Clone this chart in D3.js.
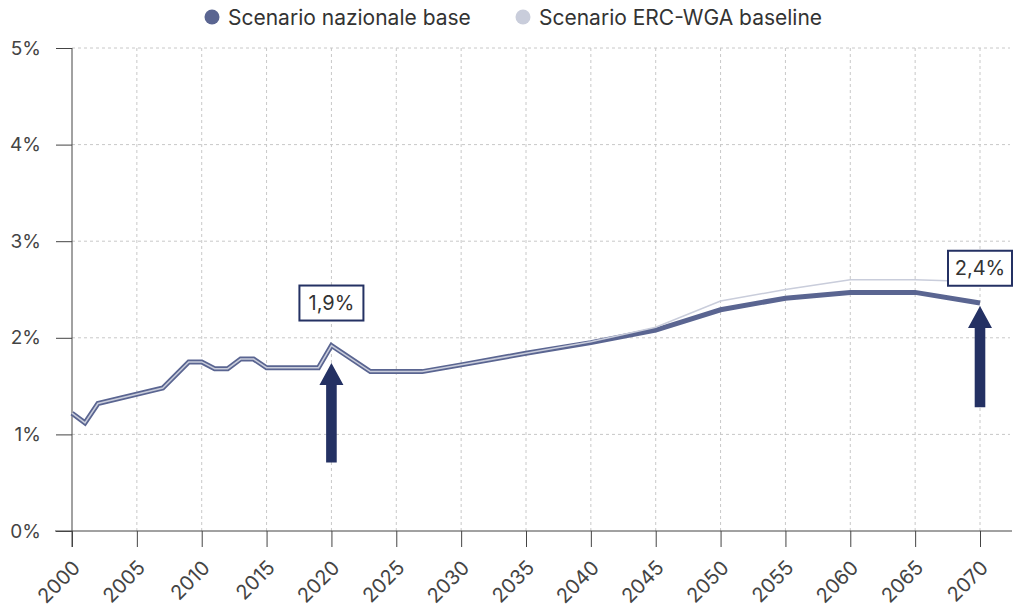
<!DOCTYPE html>
<html>
<head>
<meta charset="utf-8">
<script src="https://cdn.jsdelivr.net/npm/d3@7"></script>
<style>
  html, body { margin: 0; padding: 0; background: #fff; }
  svg { display: block; font-family: Inter, "Noto Sans", sans-serif; }
</style>
</head>
<body>
<svg id="chart" width="1021" height="611"></svg>
<script>
// ---- Data ----
const years    = [2000,2001,2002,2007,2009,2010,2011,2012,2013,2014,2015,2019,2020,2023,2027,2030,2035,2040,2045,2050,2055,2060,2065,2070];
const national = [1.22,1.12,1.32,1.48,1.75,1.75,1.68,1.68,1.78,1.78,1.69,1.69,1.92,1.65,1.65,1.72,1.84,1.95,2.08,2.29,2.41,2.47,2.47,2.36];
const baseline = [1.22,1.12,1.32,1.48,1.75,1.75,1.68,1.68,1.78,1.78,1.69,1.69,1.92,1.65,1.65,1.72,1.84,1.96,2.11,2.38,2.50,2.60,2.60,2.58];
const seriesNames = ["Scenario nazionale base", "Scenario ERC-WGA baseline"];
const xTicks = [2000,2005,2010,2015,2020,2025,2030,2035,2040,2045,2050,2055,2060,2065,2070];
const yTicks = [0,1,2,3,4,5];
// annotations: year, label, box centre value, arrow tip value, arrow base value
const annYears  = [2020, 2070];
const annLabels = ["1,9%", "2,4%"];
const annBoxVal = [2.36, 2.72];
const annTipVal = [1.74, 2.33];
const annBaseVal= [0.71, 1.28];

const colDark = "#5a6591", colLight = "#c9cddb", colArrow = "#243163";

const svg = d3.select("#chart");
const x = d3.scaleLinear().domain([2000, 2070]).range([72, 980]);
const y = d3.scaleLinear().domain([0, 5]).range([531, 48]);
const xRight = 1010;

// grid
const grid = svg.append("g");
grid.selectAll("line.h").data(yTicks.filter(d => d > 0)).join("line")
  .attr("x1", x(2000)).attr("x2", xRight).attr("y1", d => y(d)).attr("y2", d => y(d))
  .attr("stroke", "#c8c8c8").attr("stroke-dasharray", "3,3");
grid.selectAll("line.v").data(xTicks.filter(d => d > 2000)).join("line")
  .attr("x1", d => x(d)).attr("x2", d => x(d)).attr("y1", y(5)).attr("y2", y(0))
  .attr("stroke", "#c8c8c8").attr("stroke-dasharray", "3,3");

// axes
const yAxis = d3.axisLeft(y).tickValues(yTicks).tickFormat(d => d + "%").tickSize(16).tickPadding(15);
const gy = svg.append("g").attr("transform", `translate(${x(2000)},0)`).call(yAxis);
gy.select(".domain").remove();
gy.append("line").attr("x1", 0).attr("x2", 0).attr("y1", y(5)).attr("y2", y(0) + 16).attr("stroke", "#444");
gy.selectAll(".tick line").attr("stroke", "#444");
gy.selectAll(".tick text").attr("fill", "#444").style("font-size", "19px").style("font-family", "Inter, sans-serif");

const xAxis = d3.axisBottom(x).tickValues(xTicks).tickFormat(d3.format("d")).tickSize(16);
const gx = svg.append("g").attr("transform", `translate(0,${y(0)})`).call(xAxis);
gx.select(".domain").remove();
gx.append("line").attr("x1", 55).attr("x2", 1012).attr("y1", 0).attr("y2", 0).attr("stroke", "#444");
gx.selectAll(".tick line").attr("stroke", "#444");
gx.selectAll(".tick text")
  .attr("fill", "#444").style("font-size", "20px").style("font-family", "Inter, sans-serif")
  .attr("text-anchor", "end").attr("dy", null).attr("y", 0)
  .attr("transform", "translate(9,38) rotate(-45)");

// lines
const line = d3.line().x((d, i) => x(years[i])).y(d => y(d));
svg.append("path").datum(national).attr("d", line)
  .attr("fill", "none").attr("stroke", colDark).attr("stroke-width", 5).attr("stroke-linejoin", "miter");
svg.append("path").datum(baseline).attr("d", line)
  .attr("fill", "none").attr("stroke", colLight).attr("stroke-width", 1.5);

// annotations
annYears.forEach((yr, i) => {
  const cx = x(yr);
  const tip = y(annTipVal[i]), base = y(annBaseVal[i]);
  const headH = 22, headW = 12, shaftW = 5.3;
  const p = d3.path();
  p.moveTo(cx, tip);
  p.lineTo(cx + headW, tip + headH);
  p.lineTo(cx + shaftW, tip + headH);
  p.lineTo(cx + shaftW, base);
  p.lineTo(cx - shaftW, base);
  p.lineTo(cx - shaftW, tip + headH);
  p.lineTo(cx - headW, tip + headH);
  p.closePath();
  svg.append("path").attr("d", p.toString()).attr("fill", colArrow);

  const by = y(annBoxVal[i]);
  const w = 64, h = 35;
  svg.append("rect").attr("x", cx - w / 2).attr("y", by - h / 2).attr("width", w).attr("height", h)
    .attr("fill", "#fff").attr("stroke", colArrow).attr("stroke-width", 2);
  svg.append("text").attr("x", cx).attr("y", by).attr("dy", "0.36em")
    .attr("text-anchor", "middle").attr("fill", "#333").style("font-size", "20px")
    .text(annLabels[i]);
});

// legend
const legendX = [212, 523];
const legendCol = [colDark, colLight];
seriesNames.forEach((n, i) => {
  svg.append("circle").attr("cx", legendX[i]).attr("cy", 17).attr("r", 7.5).attr("fill", legendCol[i]);
  svg.append("text").attr("x", legendX[i] + 16).attr("y", 17).attr("dy", "0.36em")
    .attr("fill", "#333").style("font-size", "21px").text(n);
});
</script>
</body>
</html>
